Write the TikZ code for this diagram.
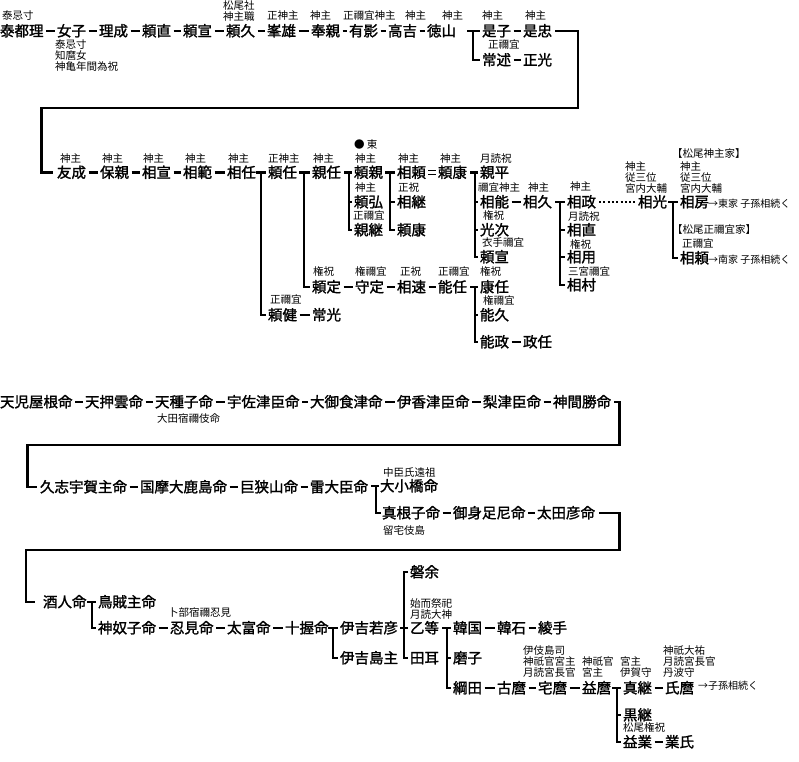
\documentclass[tikz,border=0pt]{standalone}
\usepackage{fontspec}
\setmainfont{Noto Sans CJK JP}
\newfontfamily\nmfont{Noto Sans CJK JP}[FakeBold=1.6]
\begin{document}
\begin{tikzpicture}[x=1pt,y=-1pt,
  nm/.style={font=\fontsize{14.5}{14.5}\selectfont\nmfont, inner sep=0pt, outer sep=0pt, anchor=west, text height=12pt, text depth=1.5pt},
  an1/.style={font=\fontsize{10.5}{11}\selectfont, inner sep=0pt, outer sep=0pt, anchor=west, text height=8.7pt, text depth=0.9pt},
  an/.style={font=\fontsize{10.5}{11}\selectfont, inner sep=0pt, outer sep=0pt, anchor=north west, align=left},
  nt/.style={font=\fontsize{10}{10}\selectfont, inner sep=0pt, outer sep=0pt, anchor=west, text height=8.3pt, text depth=0.9pt},
  ln/.style={line width=2.4pt, shorten <=2.5pt, shorten >=2.5pt},
  br/.style={line width=2.5pt},
  lc/.style={line width=2.3pt},
  eq/.style={line width=1.3pt, shorten <=2pt, shorten >=2pt},
  dt/.style={line width=2pt, dash pattern=on 2pt off 2.3pt, shorten <=3pt, shorten >=3pt}]
\useasboundingbox (0,0) rectangle (799,761);
\newcommand\brk[3]{%
  \draw[br] ([xshift=-#1pt-5pt]#2.west) -- ([xshift=-2pt]#2.west);
  \draw[br] ([xshift=-#1pt]#2.west) |- ([xshift=-2pt]#3.west);}
\newcommand\tck[2]{\draw[br] ([xshift=-#1pt]#2.west) -- ([xshift=-2pt]#2.west);}

% ---------- Row 1 ----------
\node[nm] (t1) at (0,31) {泰都理};
\node[nm] (t2) at (57,31) {女子};
\node[nm] (t3) at (99,31) {理成};
\node[nm] (t4) at (142,31) {頼直};
\node[nm] (t5) at (183,31) {頼宣};
\node[nm] (t6) at (226,31) {頼久};
\node[nm] (t7) at (267,31) {峯雄};
\node[nm] (t8) at (311,31) {奉親};
\node[nm] (t9) at (349,31) {有影};
\node[nm] (t10) at (388,31) {高吉};
\node[nm] (t11) at (427,31) {徳山};
\node[nm] (t12) at (482,31) {是子};
\node[nm] (t13) at (523,31) {是忠};
\node[nm] (t14) at (482,60) {常述};
\node[nm] (t15) at (523,60) {正光};

\node[an1] (a1) at (2,16) {泰忌寸};
\node[an] (a2) at (55,39.8) {泰忌寸\\知麿女\\神亀年間為祝};
\node[an] (a3) at (223,0.6) {松尾社\\神主職};
\node[an1] (a4) at (267,16) {正神主};
\node[an1] (a5) at (310,16) {神主};
\node[an1] (a6) at (343,16) {正禰宜神主};
\node[an1] (a7) at (405,16) {神主};
\node[an1] (a8) at (442,16) {神主};
\node[an1] (a9) at (482,16) {神主};
\node[an1] (a10) at (525,16) {神主};
\node[an1] (a11) at (488,45) {正禰宜};

\foreach \a/\b in {t1/t2,t2/t3,t3/t4,t4/t5,t5/t6,t6/t7,t7/t8,t8/t9,t9/t10,t10/t11,t12/t13,t14/t15}
  \draw[ln] (\a) -- (\b);
\draw[br] ([xshift=-15pt]t12.west) -- ([xshift=-2pt]t12.west);
\draw[br] ([xshift=-9pt]t12.west) |- ([xshift=-2pt]t14.west);

% ---------- Row 2 ----------
\node[nm] (u1) at (57,172.5) {友成};
\node[nm] (u2) at (100,172.5) {保親};
\node[nm] (u3) at (142,172.5) {相宣};
\node[nm] (u4) at (183,172.5) {相範};
\node[nm] (u5) at (227,172.5) {相任};
\node[nm] (u6) at (268,172.5) {頼任};
\node[nm] (u7) at (312,172.5) {親任};
\node[nm] (u8) at (354,172.5) {頼親};
\node[nm] (u9) at (397,172.5) {相頼};
\node[nm] (u10) at (438,172.5) {頼康};
\node[nm] (u11) at (480,172.5) {親平};
\node[nm] (u12) at (354,202) {頼弘};
\node[nm] (u13) at (354,230) {親継};
\node[nm] (u14) at (397,202) {相継};
\node[nm] (u15) at (397,230) {頼康};
\node[nm] (u16) at (480,202) {相能};
\node[nm] (u17) at (480,230) {光次};
\node[nm] (u18) at (480,257) {頼宣};
\node[nm] (u19) at (523,202) {相久};
\node[nm] (u20) at (567,202) {相政};
\node[nm] (u21) at (567,230) {相直};
\node[nm] (u22) at (567,257) {相用};
\node[nm] (u23) at (567,285) {相村};
\node[nm] (u24) at (638,202) {相光};
\node[nm] (u25) at (680,202) {相房};
\node[nm] (u26) at (680,258) {相頼};
\node[nm] (v1) at (312,287) {頼定};
\node[nm] (v2) at (355,287) {守定};
\node[nm] (v3) at (397,287) {相速};
\node[nm] (v4) at (438,287) {能任};
\node[nm] (v5) at (480,287) {康任};
\node[nm] (v6) at (480,315) {能久};
\node[nm] (v7) at (480,342) {能政};
\node[nm] (v8) at (523,342) {政任};
\node[nm] (v9) at (268,315) {頼健};
\node[nm] (v10) at (312,315) {常光};

\node[an1] (b1) at (60,159) {神主};
\node[an1] (b2) at (102,159) {神主};
\node[an1] (b3) at (143,159) {神主};
\node[an1] (b4) at (185,159) {神主};
\node[an1] (b5) at (228,159) {神主};
\node[an1] (b6) at (268,159) {正神主};
\node[an1] (b7) at (313,159) {神主};
\node[an1] (b8) at (355,159) {神主};
\node[an1] (b9) at (398,159) {神主};
\node[an1] (b10) at (440,159) {神主};
\node[an1] (b11) at (480,159) {月読祝};
\node[an1] (b12) at (354,145) {● 東};
\node[an1] (b13) at (355,188) {神主};
\node[an1] (b14) at (398,188) {正祝};
\node[an1] (b15) at (478,188) {禰宜神主};
\node[an1] (b16) at (528,188) {神主};
\node[an1] (b17) at (570,187) {神主};
\node[an1] (b18) at (353,216) {正禰宜};
\node[an1] (b19) at (483,216) {権祝};
\node[an1] (b20) at (568,217) {月読祝};
\node[an1] (b21) at (482,243) {衣手禰宜};
\node[an1] (b22) at (570,245) {権祝};
\node[an1] (b23) at (568,272) {三宮禰宜};
\node[an1] (b24) at (313,272) {権祝};
\node[an1] (b25) at (355,272) {権禰宜};
\node[an1] (b26) at (400,272) {正祝};
\node[an1] (b27) at (438,272) {正禰宜};
\node[an1] (b28) at (480,272) {権祝};
\node[an1] (b29) at (270,300) {正禰宜};
\node[an1] (b30) at (483,301) {権禰宜};
\node[an] (b31) at (625,161.8) {神主\\従三位\\宮内大輔};
\node[an] (b32) at (680,161.8) {神主\\従三位\\宮内大輔};
\node[an1] (b33) at (672,154) {【松尾神主家】};
\node[nt] (b34) at (708,204) {→東家 子孫相続く};
\node[an1] (b35) at (672,230) {【松尾正禰宜家】};
\node[an1] (b36) at (682,244) {正禰宜};
\node[nt] (b37) at (708,260) {→南家 子孫相続く};

\foreach \a/\b in {u1/u2,u2/u3,u3/u4,u4/u5,u16/u19,v1/v2,v2/v3,v3/v4,v7/v8,v9/v10}
  \draw[ln] (\a) -- (\b);
\brk{7}{u6}{v9}
\brk{8}{u7}{v1}
\brk{5}{u8}{u13} \tck{5}{u12}
\brk{7}{u9}{u15} \tck{7}{u14}
\draw[eq] ([yshift=2.3pt]u9.east) -- ([yshift=2.3pt]u10.west);
\draw[eq] ([yshift=-2.3pt]u9.east) -- ([yshift=-2.3pt]u10.west);
\brk{5}{u11}{u18} \tck{5}{u16} \tck{5}{u17}
\brk{7}{u20}{u23} \tck{7}{u21} \tck{7}{u22}
\draw[dt] (u20) -- (u24);
\brk{7}{u25}{u26}
\brk{5}{v5}{v7} \tck{5}{v6}

\coordinate (k1) at (578,108);
\coordinate (k2) at (41.5,108);
\draw[lc] ([xshift=3pt]t13.east) -| (k1) -- (k2) |- ([xshift=-4pt]u1.west);

% ---------- Lower section ----------
\node[nm] (w1) at (0,402) {天児屋根命};
\node[nm] (w2) at (85,402) {天押雲命};
\node[nm] (w3) at (155,402) {天種子命};
\node[nm] (w4) at (227,402) {宇佐津臣命};
\node[nm] (w5) at (310,402) {大御食津命};
\node[nm] (w6) at (397,402) {伊香津臣命};
\node[nm] (w7) at (483,402) {梨津臣命};
\node[nm] (w8) at (553,402) {神間勝命};
\node[an1] (c1) at (157,419) {大田宿禰伎命};
\foreach \a/\b in {w1/w2,w2/w3,w3/w4,w4/w5,w5/w6,w6/w7,w7/w8}
  \draw[ln] (\a) -- (\b);

\node[nm] (x1) at (40,487) {久志宇賀主命};
\node[nm] (x2) at (140,487) {国摩大鹿島命};
\node[nm] (x3) at (240,487) {巨狭山命};
\node[nm] (x4) at (310,487) {雷大臣命};
\node[nm] (x5) at (380,486) {大小橋命};
\node[nm] (x6) at (382,513) {真根子命};
\node[nm] (x7) at (453,513) {御身足尼命};
\node[nm] (x8) at (537,513) {太田彦命};
\node[an1] (c2) at (383,473) {中臣氏遠祖};
\node[an1] (c3) at (383,531) {留宅伎島};
\foreach \a/\b in {x1/x2,x2/x3,x3/x4,x6/x7,x7/x8}
  \draw[ln] (\a) -- (\b);
\draw[br] ([xshift=-9pt]x5.west) -- ([xshift=-1pt]x5.west);
\draw[br] ([xshift=-4pt]x5.west) |- ([xshift=-1pt]x6.west);

\coordinate (k3) at (619.5,445);
\coordinate (k4) at (27.5,445);
\draw[lc] ([xshift=3pt]w8.east) -| (k3) -- (k4) |- ([xshift=-3pt]x1.west);

\node[nm] (y1) at (43,602) {酒人命};
\node[nm] (y2) at (98,602) {鳥賊主命};
\node[nm] (y3) at (98,628) {神奴子命};
\node[nm] (y4) at (170,628) {忍見命};
\node[nm] (y5) at (227,628) {太富命};
\node[nm] (y6) at (285,628) {十握命};
\node[nm] (y7) at (340,628) {伊吉若彦};
\node[nm] (y8) at (340,658) {伊吉島主};
\node[nm] (y9) at (410,572) {磐余};
\node[nm] (y10) at (410,628) {乙等};
\node[nm] (y11) at (410,658) {田耳};
\node[nm] (y12) at (453,628) {韓国};
\node[nm] (y13) at (497,628) {韓石};
\node[nm] (y14) at (538,628) {綾手};
\node[nm] (y15) at (453,658) {磨子};
\node[nm] (y16) at (453,688) {綱田};
\node[nm] (y17) at (497,688) {古麿};
\node[nm] (y18) at (538,688) {宅麿};
\node[nm] (y19) at (582,688) {益麿};
\node[nm] (y20) at (623,688) {真継};
\node[nm] (y21) at (665,688) {氏麿};
\node[nm] (y22) at (623,715) {黒継};
\node[nm] (y23) at (623,742) {益業};
\node[nm] (y24) at (665,742) {業氏};

\node[an1] (d1) at (168,613) {卜部宿禰忍見};
\node[an] (d2) at (410,598.5) {始而祭祀\\月読大神};
\node[an] (d3) at (523,645.8) {伊伎島司\\神祇官宮主\\月読宮長官};
\node[an] (d4) at (582,656.8) {神祇官\\宮主};
\node[an] (d5) at (620,656.8) {宮主\\伊賀守};
\node[an] (d6) at (663,645.8) {神祇大祐\\月読宮長官\\丹波守};
\node[an1] (d7) at (623,728) {松尾権祝};
\node[nt] (d8) at (698,686) {→子孫相続く};

\foreach \a/\b in {y3/y4,y4/y5,y5/y6,y12/y13,y13/y14,y16/y17,y17/y18,y18/y19,y20/y21,y23/y24}
  \draw[ln] (\a) -- (\b);
\brk{6}{y2}{y3}
\brk{7}{y7}{y8}
\draw[br] ([xshift=-2pt]y9.west) -| ([xshift=-6pt]y11.west) -- ([xshift=-2pt]y11.west);
\draw[br] ([xshift=2pt]y7.east) -- ([xshift=-2pt]y10.west);
\brk{6}{y12}{y16} \tck{6}{y15}
\brk{6}{y20}{y23} \tck{6}{y22}

\coordinate (k5) at (619.5,550);
\coordinate (k6) at (26,550);
\draw[lc] ([xshift=4pt]x8.east) -| (k5) -- (k6) |- ([xshift=-8pt]y1.west);
\end{tikzpicture}
\end{document}
